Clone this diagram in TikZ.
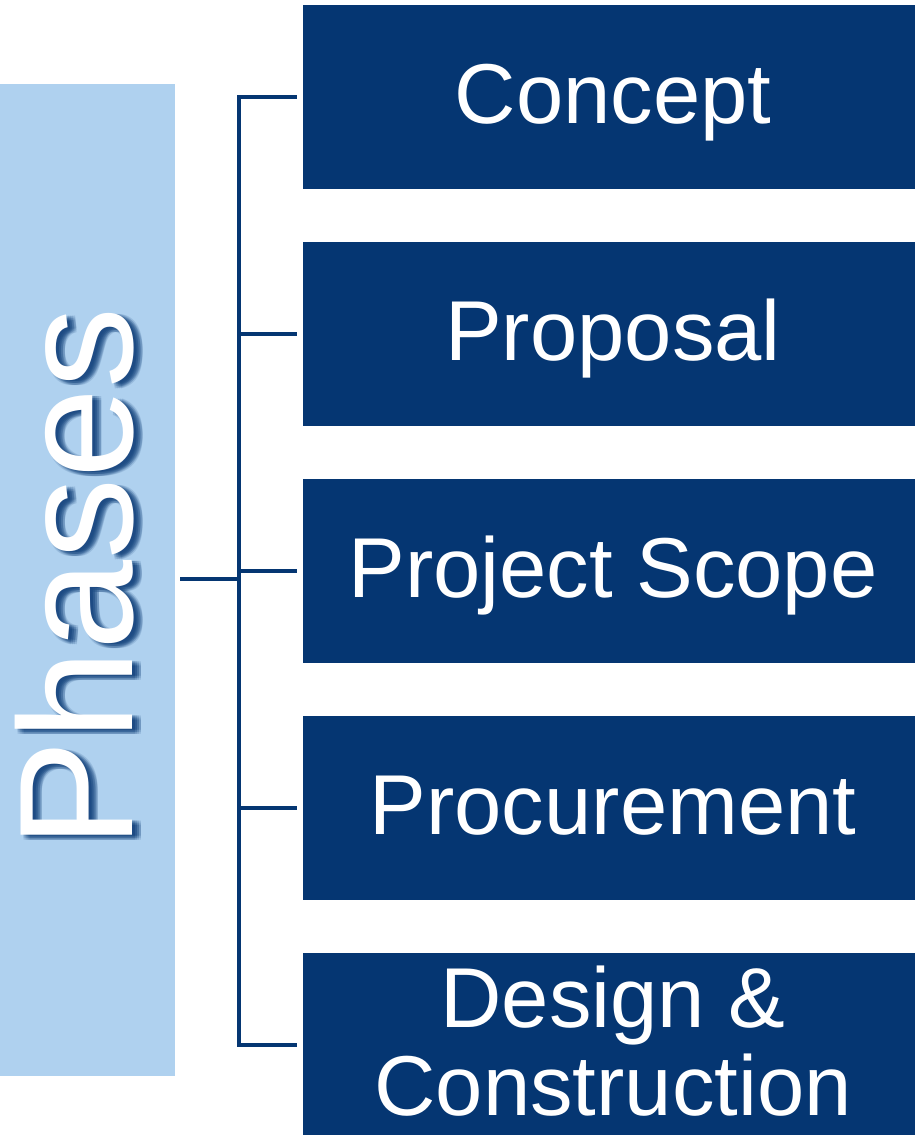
\documentclass[tikz,border=0pt]{standalone}
\usepackage{fontspec}
\setmainfont{Liberation Sans}
\usetikzlibrary{calc}
\definecolor{navy}{RGB}{5,54,114}
\definecolor{paleblue}{RGB}{175,209,239}
\tikzset{
  phasebox/.style={fill=navy, draw=none, minimum width=612pt, minimum height=184pt, inner sep=0pt},
  boxtext/.style={text=white, inner sep=0pt, anchor=base, font=\fontsize{85}{88}\selectfont, align=center},
  link/.style={draw=navy, line width=4.5pt},
  sidebar/.style={fill=paleblue, draw=none, minimum width=175pt, minimum height=992pt, inner sep=0pt},
  titletext/.style={inner sep=0pt, rotate=90, font=\fontsize{162}{162}\selectfont},
}
\begin{document}
\begin{tikzpicture}[x=1pt,y=-1pt]
\useasboundingbox (0,0) rectangle (915,1135);

% side bar with the vertical title and its soft shadow
\node[sidebar] (bar) at (87.5,580) {};
\foreach \dx in {3,5,7,9}{
  \foreach \dy in {1,3,5}{
    \node[titletext, text=navy, opacity=0.14] at (75+\dx,578+\dy) {Phases};
  }
}
\node[titletext, text=white] (title) at (75,578) {Phases};

% phase boxes
\node[phasebox] (b1) at (609,97) {};
\node[phasebox] (b2) at (609,334) {};
\node[phasebox] (b3) at (609,571) {};
\node[phasebox] (b4) at (609,808) {};
\node[phasebox] (b5) at (609,1045) {};

\node[boxtext] (t1) at ($(b1.center)+(4,26)$) {Concept};
\node[boxtext] (t2) at ($(b2.center)+(4,26)$) {Proposal};
\node[boxtext] (t3) at ($(b3.center)+(4,26)$) {Project Scope};
\node[boxtext] (t4) at ($(b4.center)+(4,26)$) {Procurement};
\node[boxtext] (t5a) at ($(b5.center)+(4,-18)$) {Design \&};
\node[boxtext] (t5b) at ($(b5.center)+(4,70)$) {Construction};

% bracket connecting the title to every phase
\coordinate (spineTop) at (239,97);
\coordinate (spineBot) at (239,1045);
\coordinate (spineMid) at (239,579);
\coordinate (e1) at ($(b1.west)+(-6,0)$);
\coordinate (e2) at ($(b2.west)+(-6,0)$);
\coordinate (e3) at ($(b3.west)+(-6,0)$);
\coordinate (e4) at ($(b4.west)+(-6,0)$);
\coordinate (e5) at ($(b5.west)+(-6,0)$);
\coordinate (barOut) at ($(bar.east |- spineMid)+(5,0)$);

\draw[link, line join=miter] (e1) -- (spineTop) -- (spineBot) -- (e5);
\draw[link] (spineTop |- e2) -- (e2);
\draw[link] (spineTop |- e3) -- (e3);
\draw[link] (spineTop |- e4) -- (e4);
\draw[link] (barOut) -- (spineMid);
\end{tikzpicture}
\end{document}
